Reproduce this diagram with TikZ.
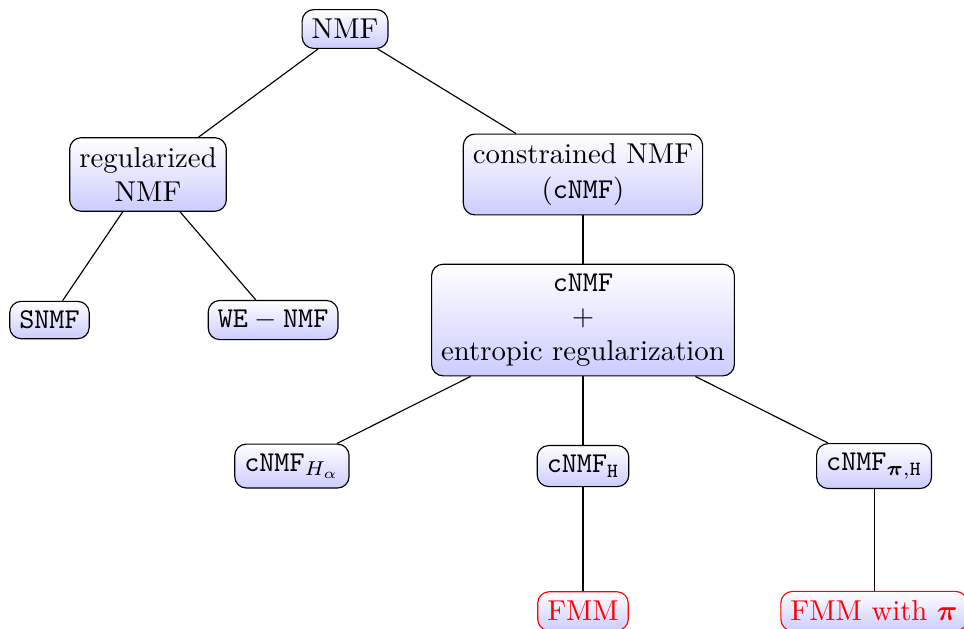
\documentclass[tikz,border=0pt]{standalone}
\usepackage{amsmath,bm}
\tikzset{box/.style={draw, rounded corners, top color=white, bottom color=blue!20, align=center},
  fmm/.style={box, draw=red, text=red}}

\begin{document}
\begin{tikzpicture}
  \useasboundingbox (0,0) rectangle (11.79,-7.682);
  \node[box] (nmf) at (4.22,-0.355) {NMF};
  \node[box] (reg) at (1.81,-2.134) {regularized\\NMF};
  \node[box] (cons) at (7.13,-2.134) {constrained NMF\\(\texttt{cNMF})};
  \node[box] (snmf) at (0.605,-3.914) {\texttt{SNMF}};
  \node[box] (wenmf) at (3.34,-3.914) {$\mathtt{WE}-\mathtt{NMF}$};
  \node[box] (ent) at (7.13,-3.914) {\texttt{cNMF}\\$+$\\entropic regularization};
  \node[box] (cha) at (3.57,-5.70) {$\mathtt{cNMF}_{H_\alpha}$};
  \node[box] (chh) at (7.13,-5.70) {$\mathtt{cNMF}_{\mathtt{H}}$};
  \node[box] (cpih) at (10.69,-5.70) {$\mathtt{cNMF}_{\bm{\pi},\mathtt{H}}$};
  \node[fmm] (fmm) at (7.13,-7.474) {FMM};
  \node[fmm] (fmmpi) at (10.69,-7.474) {FMM with $\bm{\pi}$};
  \draw (nmf) -- (reg);
  \draw (nmf) -- (cons);
  \draw (reg) -- (snmf);
  \draw (reg) -- (wenmf);
  \draw (cons) -- (ent);
  \draw (ent) -- (cha);
  \draw (ent) -- (chh);
  \draw (ent) -- (cpih);
  \draw (chh) -- (fmm);
  \draw (cpih) -- (fmmpi);
\end{tikzpicture}
\end{document}
